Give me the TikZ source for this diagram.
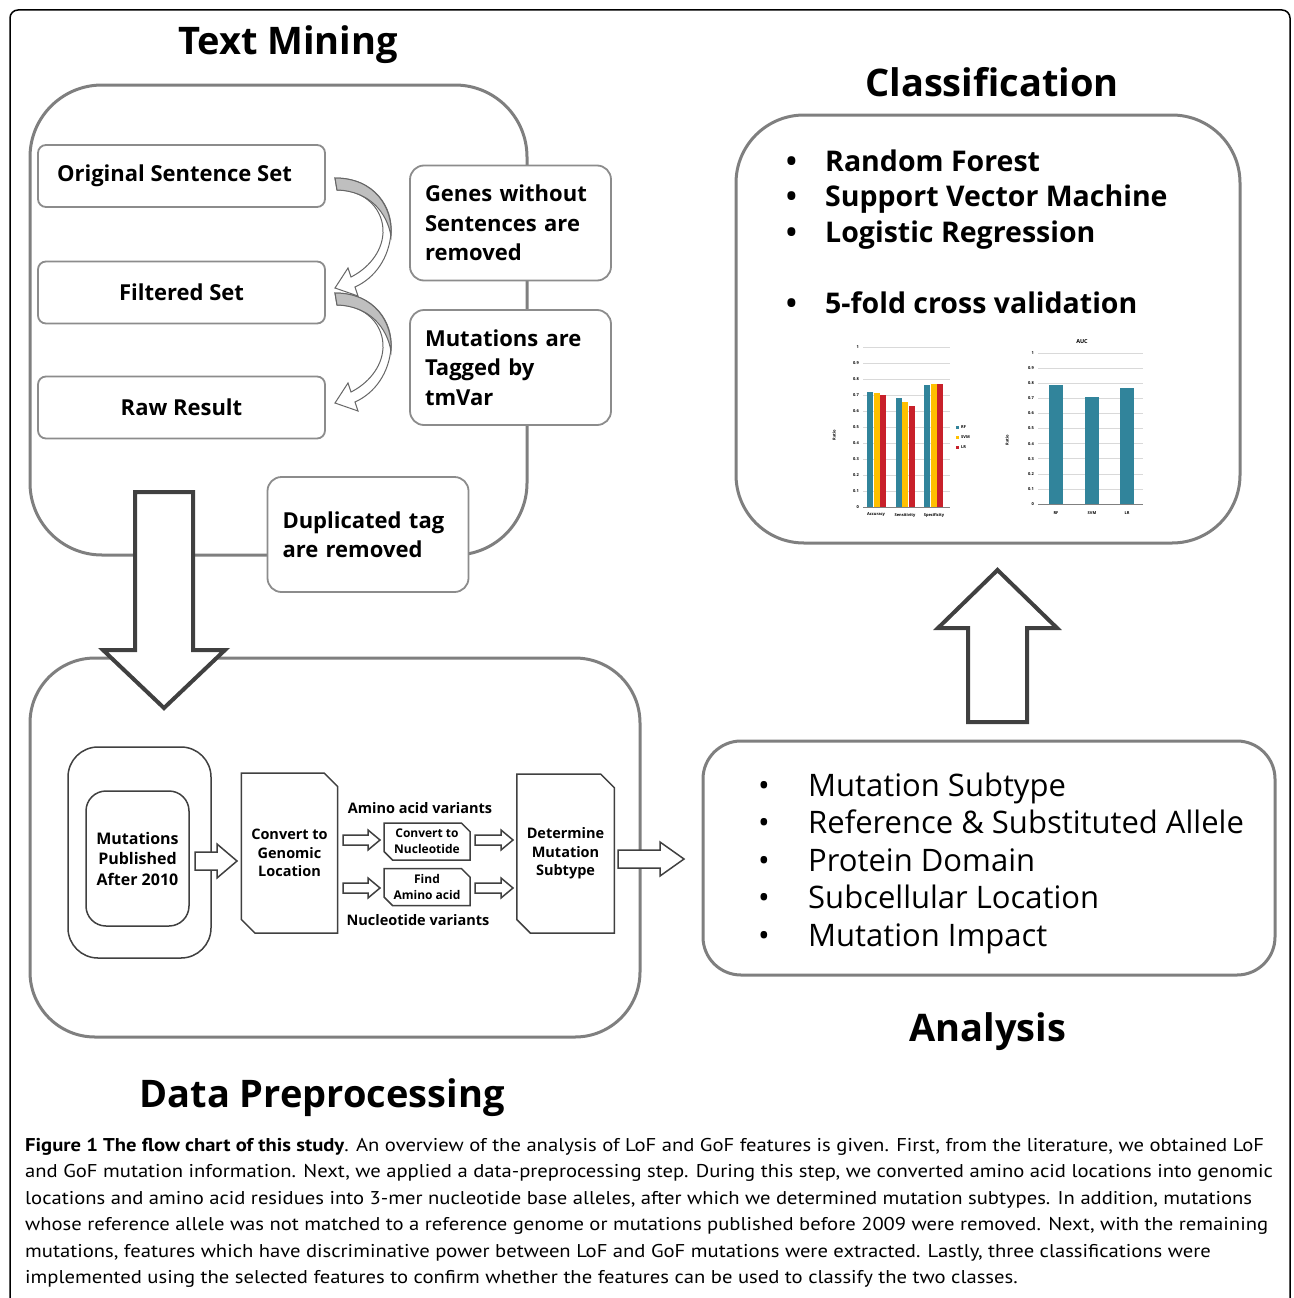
\documentclass[tikz,border=0pt]{standalone}
\usepackage{fontspec}
\setmainfont{Open Sans}
\newfontfamily\capfont[FakeStretch=1.115]{PT Sans}
\usetikzlibrary{shapes.misc}

\definecolor{panelgray}{HTML}{7F7F7F}
\definecolor{boxgray}{HTML}{8C8C8C}
\definecolor{darkline}{HTML}{404040}
\definecolor{curvfill}{HTML}{BFBFBF}
\definecolor{gridgray}{HTML}{D9D9D9}
\definecolor{rfcol}{HTML}{31849B}
\definecolor{svmcol}{HTML}{FFC000}
\definecolor{lrcol}{HTML}{C8202A}

\tikzset{
  pics/curvarr/.style={code={
    \draw[curvline, fill=white] (0,0) .. controls (40,0) and (58,30) .. (56,55)
      .. controls (54,80) and (40,100) .. (20,109) -- (23,118) -- (0,110) -- (13,90) -- (16,99)
      .. controls (32,91) and (47,75) .. (48,55) .. controls (49,33) and (32,12) .. (2,12) -- cycle;
    \draw[curvline, fill=curvfill] (0,0) .. controls (40,0) and (58,30) .. (56,58)
      .. controls (52,35) and (35,13) .. (2,12) -- cycle;
  }},
  pics/rarr/.style n args={4}{code={
    \draw[hollow] (0,-#2) -- ({#1-#4},-#2) -- ({#1-#4},-#3) -- (#1,0) -- ({#1-#4},#3) -- ({#1-#4},#2) -- (0,#2) -- cycle;
  }}
}

\begin{document}
\begin{tikzpicture}[
  x=1pt, y=-1pt,
  title/.style={font=\bfseries\fontsize{38}{42}\selectfont, inner sep=0},
  panel/.style={draw=panelgray, line width=3, rounded corners=72, fill=white},
  tmbox/.style={draw=boxgray, line width=1.8, rounded corners=8, fill=white,
                minimum width=287, minimum height=62, font=\bfseries\fontsize{22}{26}\selectfont},
  note/.style={draw=boxgray, line width=1.8, rounded corners=14, fill=white, align=left,
               text width=171, inner xsep=15, minimum height=115,
               font=\bfseries\fontsize{22}{29.5}\selectfont},
  dpbox/.style={draw=darkline, line width=1.5, fill=white},
  snip/.style={dpbox, chamfered rectangle, chamfered rectangle corners={north east,south west},
               align=center, inner sep=0, font=\bfseries\fontsize{14.5}{18.5}\selectfont},
  small/.style={snip, chamfered rectangle xsep=5, minimum width=86, minimum height=37,
                font=\bfseries\fontsize{12}{16}\selectfont},
  varlbl/.style={font=\bfseries\fontsize{14.5}{16}\selectfont, inner sep=0},
  hollow/.style={draw=darkline, line width=1.5, fill=white, line join=miter},
  bigarr/.style={draw=darkline, line width=4, fill=white, line join=miter},
  curvline/.style={draw=darkline!80, line width=1},
  clsitem/.style={anchor=base west, inner sep=0, font=\bfseries\fontsize{28.5}{30}\selectfont},
  anaitem/.style={anchor=base west, inner sep=0, font=\fontsize{31}{33}\selectfont},
  grid/.style={gridgray, line width=0.5},
  tick/.style={inner sep=0, font=\bfseries\fontsize{4}{5}\selectfont}
]
\useasboundingbox (0,0) rectangle (1293,1298);

% outer frame
\draw[line width=1.5, rounded corners=8] (10,1310) -- (10,10) -- (1290,10) -- (1290,1310);

% ---- text mining
\node[title] (tmtitle) at (288,45) {Text Mining};
\node[panel, minimum width=497, minimum height=470] (tmpanel) at (278.5,320) {};
\node[tmbox] (orig) at (181.5,176) {\hspace*{-14pt}Original Sentence Set};
\node[tmbox] (filt) at (181.5,292.5) {Filtered Set};
\node[tmbox] (raw) at (181.5,407.5) {Raw Result};
\pic at (335,178) {curvarr};
\pic at (335,293) {curvarr};
\node[note] (genes) at (510.5,223) {Genes without\\Sentences are\\removed};
\node[note] (tagged) at (510.5,367.5) {Mutations are\\Tagged by\\tmVar};
\node[note, minimum width=200] (dup) at (368,534.5) {Duplicated tag\\are removed};

% ---- data preprocessing
\node[panel, rounded corners=65, minimum width=610, minimum height=379] (dppanel) at (335,847.5) {};
\node[title] (dptitle) at (322,1098) {Data Preprocessing};
\draw[bigarr] (135,492) -- (193,492) -- (193,650) -- (225,650) -- (164,708) -- (103,650) -- (135,650) -- cycle;

\node[dpbox, rounded corners=30, minimum width=143, minimum height=211] (mutout) at (139.5,852.5) {};
\node[dpbox, rounded corners=20, minimum width=103, minimum height=135, align=center,
      font=\bfseries\fontsize{16}{20.5}\selectfont] (mutin) at (137.5,858.5) {Mutations\\Published\\After 2010};
\node[snip, chamfered rectangle xsep=10, minimum height=160] (genomic) at (289.5,853) {Convert to\\Genomic\\Location};
\node[small] (tonuc) at (427,841.5) {Convert to\\Nucleotide};
\node[small] (findaa) at (427,887) {Find\\Amino acid};
\node[varlbl] (aavar) at (420,808) {Amino acid variants};
\node[varlbl] (nucvar) at (418,920) {Nucleotide variants};
\node[snip, chamfered rectangle xsep=10, minimum height=159] (subtype) at (565.5,853.5) {Determine\\Mutation\\Subtype};

\pic at (195,861) {rarr={42}{9}{17}{20}};
\pic at (343,840) {rarr={37}{5}{10}{12}};
\pic at (343,888) {rarr={37}{5}{10}{12}};
\pic at (475,840) {rarr={38}{5}{10}{12}};
\pic at (475,888) {rarr={38}{5}{10}{12}};
\pic at (618,859) {rarr={66}{9}{17}{24}};

% ---- analysis
\node[panel, rounded corners=38, minimum width=572, minimum height=234] (anapanel) at (989,858) {};
\node[title] (anatitle) at (988,1032) {Analysis};
\foreach \t/\yy [count=\i] in {Mutation Subtype/785, Reference \& Substituted Allele/822,
    Protein Domain/860, Subcellular Location/897, Mutation Impact/935}{
  \node[anaitem] (ana\i) at (808,\yy+11) {\t};
  \node[anaitem] at (758,\yy+11) {\textbullet};
}
\draw[bigarr] (968,722) -- (1027,722) -- (1027,628) -- (1057,628) -- (997.5,570) -- (938,628) -- (968,628) -- cycle;

% ---- classification
\node[title] (clstitle) at (992,82) {Classification};
\node[panel, rounded corners=68, minimum width=504, minimum height=428] (clspanel) at (988,329) {};
\foreach \t/\yy [count=\i] in {Random Forest/161, Support Vector Machine/196,
    Logistic Regression/232, 5-fold cross validation/303}{
  \node[clsitem] (cls\i) at (825,\yy+10) {\t};
  \node[clsitem] at (786,\yy+10) {\textbullet};
}

% accuracy / sensitivity / specificity chart
\foreach \k/\t in {0/0,1/0.1,2/0.2,3/0.3,4/0.4,5/0.5,6/0.6,7/0.7,8/0.8,9/0.9,10/1}{
  \draw[grid] (863,{507-16*\k}) -- (950,{507-16*\k});
  \node[tick, anchor=east] at (859,{507-16*\k}) {\t};
}
\draw[gray, line width=0.5] (863,507) -- (950,507);
\foreach \gx/\va/\vb/\vc in {867/.72/.71/.70, 895.5/.68/.655/.632, 924/.765/.77/.77}{
  \fill[rfcol] (\gx,507) rectangle ({\gx+6},{507-160*\va});
  \fill[svmcol] ({\gx+6.5},507) rectangle ({\gx+12.5},{507-160*\vb});
  \fill[lrcol] ({\gx+13},507) rectangle ({\gx+19},{507-160*\vc});
}
\node[tick] (acc) at (876,515) {Accuracy};
\node[tick] (sens) at (905,515) {Sensitivity};
\node[tick] (spec) at (934,515) {Specificity};
\node[tick, rotate=90] (ratio1) at (834,435) {Ratio};
\foreach \col/\t/\yy in {rfcol/RF/427, svmcol/SVM/437, lrcol/LR/447}{
  \fill[\col] (956,{\yy-1.5}) rectangle (959,{\yy+1.5});
  \node[tick, anchor=west] at (961,\yy) {\t};
}

% AUC chart
\node[tick, font=\bfseries\fontsize{5.5}{6}\selectfont] (auc) at (1082,342) {AUC};
\foreach \k/\t in {0/0,1/0.1,2/0.2,3/0.3,4/0.4,5/0.5,6/0.6,7/0.7,8/0.8,9/0.9,10/1}{
  \draw[grid] (1038,{504-15.1*\k}) -- (1143,{504-15.1*\k});
  \node[tick, anchor=east] at (1034,{504-15.1*\k}) {\t};
}
\draw[gray, line width=0.5] (1038,504) -- (1143,504);
\foreach \bx/\v/\t in {1049/.785/RF, 1085/.71/SVM, 1120/.765/LR}{
  \fill[rfcol] (\bx,504) rectangle ({\bx+14},{504-151*\v});
  \node[tick] at ({\bx+7},513) {\t};
}
\node[tick, rotate=90] (ratio2) at (1007,440) {Ratio};

% ---- caption
\node[anchor=north west, align=left, inner sep=0, font=\capfont\fontsize{18.5}{26.5}\selectfont] (caption) at (25,1138)
{\textbf{Figure 1 The flow chart of this study}. An overview of the analysis of LoF and GoF features is given. First, from the literature, we obtained LoF\\
and GoF mutation information. Next, we applied a data-preprocessing step. During this step, we converted amino acid locations into genomic\\
locations and amino acid residues into 3-mer nucleotide base alleles, after which we determined mutation subtypes. In addition, mutations\\
whose reference allele was not matched to a reference genome or mutations published before 2009 were removed. Next, with the remaining\\
mutations, features which have discriminative power between LoF and GoF mutations were extracted. Lastly, three classifications were\\
implemented using the selected features to confirm whether the features can be used to classify the two classes.};
\end{tikzpicture}
\end{document}
